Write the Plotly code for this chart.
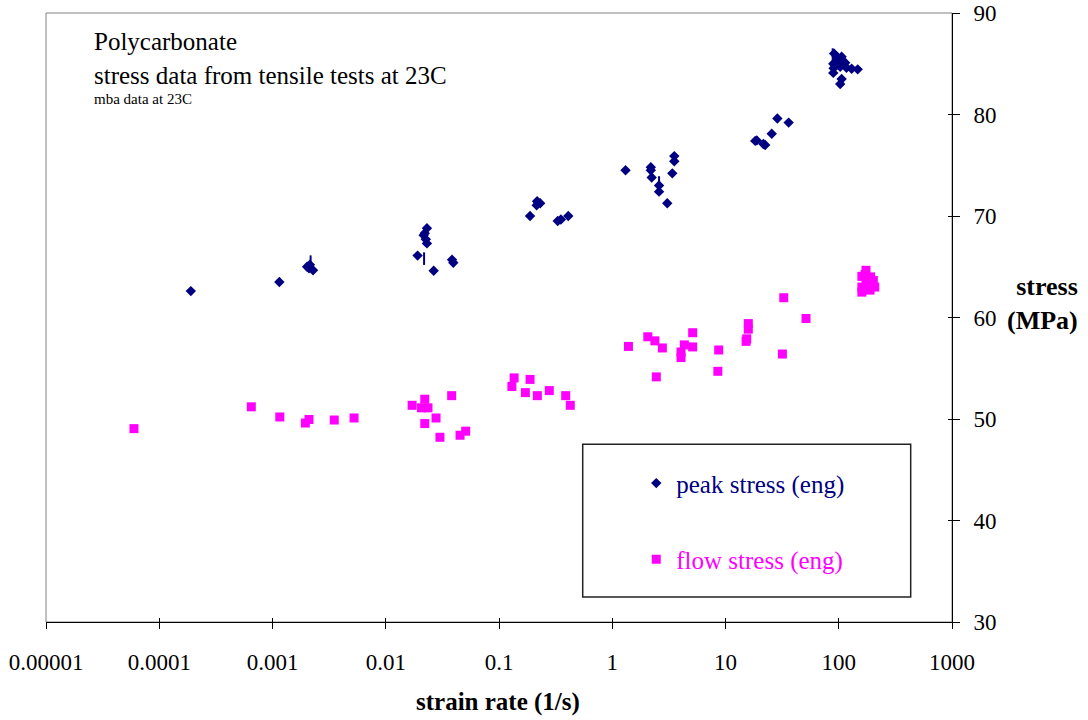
import plotly.graph_objects as go

# Peak (engineering) stress vs strain rate
peak_rate = [1.90e-4, 1.15e-3,
             2.02e-3, 2.14e-3, 2.28e-3, 2.10e-3,
             0.0191, 0.0231, 0.0221, 0.0216, 0.0226, 0.0231, 0.0265, 0.0385, 0.0395,
             0.188, 0.222, 0.215, 0.231, 0.217, 0.409, 0.352, 0.330,
             1.31, 2.19, 2.19, 2.23, 2.59, 2.59, 3.06, 3.39, 3.53, 3.53,
             18.3, 18.9, 21.6, 22.4, 25.6, 28.7, 36.1,
             89.5, 106, 89.5, 130, 103, 106, 103, 96, 117, 97, 114, 147, 90, 91]
peak_stress = [62.6, 63.5,
               65.0, 65.2, 64.65, 64.85,
               66.1, 68.8, 68.3, 68.1, 67.7, 67.3, 64.6, 65.7, 65.4,
               70.0, 71.3, 71.05, 71.25, 71.45, 70.0, 69.65, 69.5,
               74.5, 74.8, 74.5, 73.8, 73.0, 72.4, 71.25, 74.2, 75.9, 75.4,
               77.4, 77.45, 77.1, 77.0, 78.1, 79.6, 79.2,
               85.0, 85.7, 84.1, 84.5, 84.7, 83.5, 83.0, 85.7, 84.6, 85.3, 85.1, 84.45, 84.55, 86.0]

# Short vertical bars drawn at a few peak-stress groups
bar_rate = [2.17e-3, 0.0218, 2.59, 88.4]
bar_stress = [65.5, 65.8, 73.3, 85.9]

# Flow (engineering) stress vs strain rate
flow_rate = [5.98e-5, 6.50e-4, 1.16e-3, 1.95e-3, 2.10e-3, 3.51e-3, 5.25e-3,
             0.0171, 0.0221, 0.0207, 0.0236, 0.0221, 0.0278, 0.0301, 0.0382, 0.0453, 0.0508,
             0.136, 0.130, 0.188, 0.171, 0.218, 0.278, 0.388, 0.426,
             1.39, 2.06, 2.38, 2.77, 2.45, 4.05, 4.05, 4.33, 5.13, 5.13, 8.71, 8.56,
             15.9, 15.9, 15.2, 15.4, 32.7, 31.8, 51.4,
             174, 160, 202, 160, 160, 189, 174, 191, 171, 208]
flow_stress = [49.05, 51.2, 50.2, 49.6, 49.95, 49.9, 50.1,
               51.35, 51.95, 51.1, 51.1, 49.55, 50.1, 48.2, 52.3, 48.4, 48.8,
               54.05, 53.2, 53.9, 52.6, 52.3, 52.8, 52.3, 51.35,
               57.15, 58.1, 57.7, 57.0, 54.15, 56.6, 56.05, 57.3, 58.5, 57.1, 56.8, 54.7,
               59.4, 58.85, 57.65, 57.9, 61.95, 56.4, 59.9,
               64.65, 64.05, 63.65, 63.0, 62.5, 62.7, 63.4, 64.0, 64.25, 63.0]

x_tickvals = [1e-5, 1e-4, 1e-3, 1e-2, 1e-1, 1, 10, 100, 1000]
x_ticktext = ["0.00001", "0.0001", "0.001", "0.01", "0.1", "1", "10", "100", "1000"]
y_tickvals = [30, 40, 50, 60, 70, 80, 90]

NAVY = "#000080"
MAGENTA = "#FF00FF"
SERIF = "Liberation Serif"

fig = go.Figure()

fig.add_trace(go.Scatter(
    x=peak_rate, y=peak_stress, mode="markers", name="peak stress (eng)",
    marker=dict(symbol="diamond", size=8, color=NAVY, line=dict(width=0)),
    legend="legend",
))
fig.add_trace(go.Scatter(
    x=bar_rate, y=bar_stress, mode="markers", showlegend=False,
    marker=dict(symbol="line-ns", size=9, color=NAVY, line=dict(width=2, color=NAVY)),
))
fig.add_trace(go.Scatter(
    x=flow_rate, y=flow_stress, mode="markers", name="flow stress (eng)",
    marker=dict(symbol="square", size=9, color=MAGENTA, line=dict(width=0)),
    legend="legend2",
))
# empty trace that carries the overlay axes used for the inward tick halves
fig.add_trace(go.Scatter(x=[], y=[], xaxis="x2", yaxis="y2", showlegend=False,
                         hoverinfo="skip"))

fig.update_layout(
    width=1088, height=720,
    margin=dict(l=46, r=136, t=13, b=98, autoexpand=False),
    paper_bgcolor="white", plot_bgcolor="white",
    font=dict(family=SERIF, color="black", size=22),
    xaxis=dict(
        type="log", range=[-5, 3], tickvals=x_tickvals, ticktext=x_ticktext,
        showgrid=False, zeroline=False, showline=True, linecolor="black", linewidth=1,
        ticks="outside", ticklen=6, tickcolor="black", tickwidth=1, automargin=False,
        tickfont=dict(size=23, family=SERIF, color="black"), ticklabelstandoff=13,
    ),
    xaxis2=dict(
        type="log", range=[-5, 3], tickvals=x_tickvals, overlaying="x", anchor="y2",
        showgrid=False, zeroline=False, showline=False, showticklabels=False,
        ticks="inside", ticklen=4, tickcolor="black", tickwidth=1, automargin=False,
    ),
    yaxis=dict(
        range=[30, 90], tickvals=y_tickvals, side="right",
        showgrid=False, zeroline=False, showline=True, linecolor="black", linewidth=1,
        ticks="outside", ticklen=7, tickcolor="black", tickwidth=1, automargin=False,
        tickfont=dict(size=23, family=SERIF, color="black"), ticklabelstandoff=9,
    ),
    yaxis2=dict(
        range=[30, 90], tickvals=y_tickvals, overlaying="y", side="right", anchor="x2",
        showgrid=False, zeroline=False, showline=False, showticklabels=False,
        ticks="inside", ticklen=4, tickcolor="black", tickwidth=1, automargin=False,
    ),
    legend=dict(
        x=0.6515, y=0.2277, xanchor="left", yanchor="middle",
        bgcolor="rgba(0,0,0,0)", borderwidth=0,
        font=dict(size=25, family=SERIF, color=NAVY),
    ),
    legend2=dict(
        x=0.6515, y=0.1025, xanchor="left", yanchor="middle",
        bgcolor="rgba(0,0,0,0)", borderwidth=0,
        font=dict(size=25, family=SERIF, color=MAGENTA),
    ),
    shapes=[
        # plot-area frame
        dict(type="rect", xref="paper", yref="paper", x0=0, x1=1, y0=0, y1=1,
             line=dict(color="#808080", width=1), layer="below"),
        # legend frame
        dict(type="rect", xref="paper", yref="paper", x0=0.5924, x1=0.9544,
             y0=0.0411, y1=0.2918, line=dict(color="#222222", width=1.5),
             fillcolor="white", layer="below"),
    ],
    annotations=[
        dict(text="Polycarbonate", xref="paper", yref="paper", x=0.0508, y=0.953,
             xanchor="left", yanchor="middle", showarrow=False,
             font=dict(size=25, family=SERIF, color="black")),
        dict(text="stress data from tensile tests at 23C", xref="paper", yref="paper",
             x=0.0508, y=0.897, xanchor="left", yanchor="middle", showarrow=False,
             font=dict(size=25, family=SERIF, color="black")),
        dict(text="mba data at 23C", xref="paper", yref="paper", x=0.0508, y=0.858,
             xanchor="left", yanchor="middle", showarrow=False,
             font=dict(size=15, family=SERIF, color="black")),
        dict(text="<b>strain rate (1/s)</b>", xref="paper", yref="paper", x=0.499, y=-0.132,
             xanchor="center", yanchor="middle", showarrow=False,
             font=dict(size=25, family=SERIF, color="black")),
        dict(text="<b>stress<br>(MPa)</b>", xref="paper", yref="paper", x=1.100, y=0.523,
             xanchor="center", yanchor="middle", showarrow=False, align="right",
             font=dict(size=26, family=SERIF, color="black")),
    ],
)

fig.write_html("out.html")
